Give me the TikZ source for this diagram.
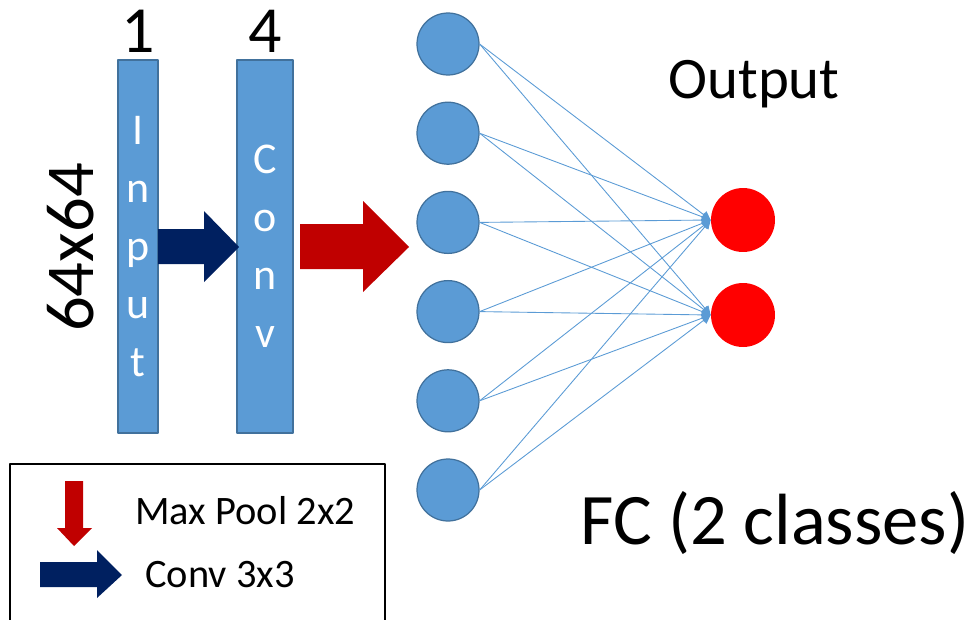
\documentclass[tikz,border=0pt]{standalone}
\usepackage{fontspec}
\setmainfont{Carlito}
\usetikzlibrary{arrows.meta}
\definecolor{layerblue}{HTML}{5B9BD5}
\definecolor{layeredge}{HTML}{41719C}
\definecolor{convnavy}{HTML}{002060}
\definecolor{pooldark}{HTML}{C00000}
\definecolor{outred}{HTML}{FF0000}
\begin{document}
\begin{tikzpicture}[x=0.02cm,y=-0.02cm,line join=round,>={Triangle[length=5pt,width=5pt]}]
	\tikzset{layer/.style={draw=layeredge,fill=layerblue,line width=0.8pt,minimum width=#1,minimum height=7.46cm,inner sep=0pt},
		letters/.style={text=white,font=\fontsize{25}{33}\selectfont,align=center},
		hid/.style={circle,draw=layeredge,fill=layerblue,line width=0.7pt,minimum size=1.24cm,inner sep=0pt},
		outn/.style={circle,fill=outred,minimum size=1.28cm,inner sep=0pt},
		wire/.style={->,draw=layerblue,line width=0.5pt}}
	\clip (0,0) rectangle (980,619);
	% layers
	\node[layer=0.8cm] (in) at (138,246.5) {};
	\node[layer=1.12cm] (conv) at (265,246.5) {};
	\node[letters] at (in.center) {I\\n\\p\\u\\t};
	\node[letters] at (conv.center) {C\\o\\n\\v};
	\node[anchor=base,font=\fontsize{37.5}{40}\selectfont] (n1) at (138,52) {1};
	\node[anchor=base,font=\fontsize{37.5}{40}\selectfont] (n4) at (265,52) {4};
	\node[anchor=base,rotate=90,font=\fontsize{39}{42}\selectfont] (size) at (93,247.5) {64x64};
	% block arrows
	\fill[convnavy] (158,229)--(204,229)--(204,211)--(239,247)--(204,282)--(204,264)--(158,264)--cycle;
	\fill[pooldark] (300,224)--(363,224)--(363,201)--(409,247)--(363,292)--(363,269)--(300,269)--cycle;
	% fully connected
	\foreach \i in {1,...,6}
		\node[hid] (h\i) at (448,{44+89.2*(\i-1)}) {};
	\node[outn] (o1) at (743,220) {};
	\node[outn] (o2) at (743,315) {};
	\foreach \i in {1,...,6}
		\foreach \j in {1,2}
			\draw[wire] (h\i.east) -- (o\j.west);
	\node[anchor=base,font=\fontsize{33.5}{36}\selectfont] (outlbl) at (754,98) {Output};
	\node[anchor=base,font=\fontsize{41.3}{44}\selectfont] (fclbl) at (775,544) {FC (2 classes)};
	% legend
	\draw[line width=1.1pt] (10,464) rectangle (385,640);
	\fill[pooldark] (65,481)--(83,481)--(83,528)--(92,528)--(74,546)--(57,528)--(65,528)--cycle;
	\fill[convnavy] (40,562)--(97,562)--(97,550)--(122,575)--(97,598)--(97,587)--(40,587)--cycle;
	\node[anchor=base west,inner sep=0pt,font=\fontsize{23}{26}\selectfont] (poollbl) at (135,524) {Max Pool 2x2};
	\node[anchor=base west,inner sep=0pt,font=\fontsize{23}{26}\selectfont] (convlbl) at (145,587) {Conv 3x3};
\end{tikzpicture}
\end{document}
